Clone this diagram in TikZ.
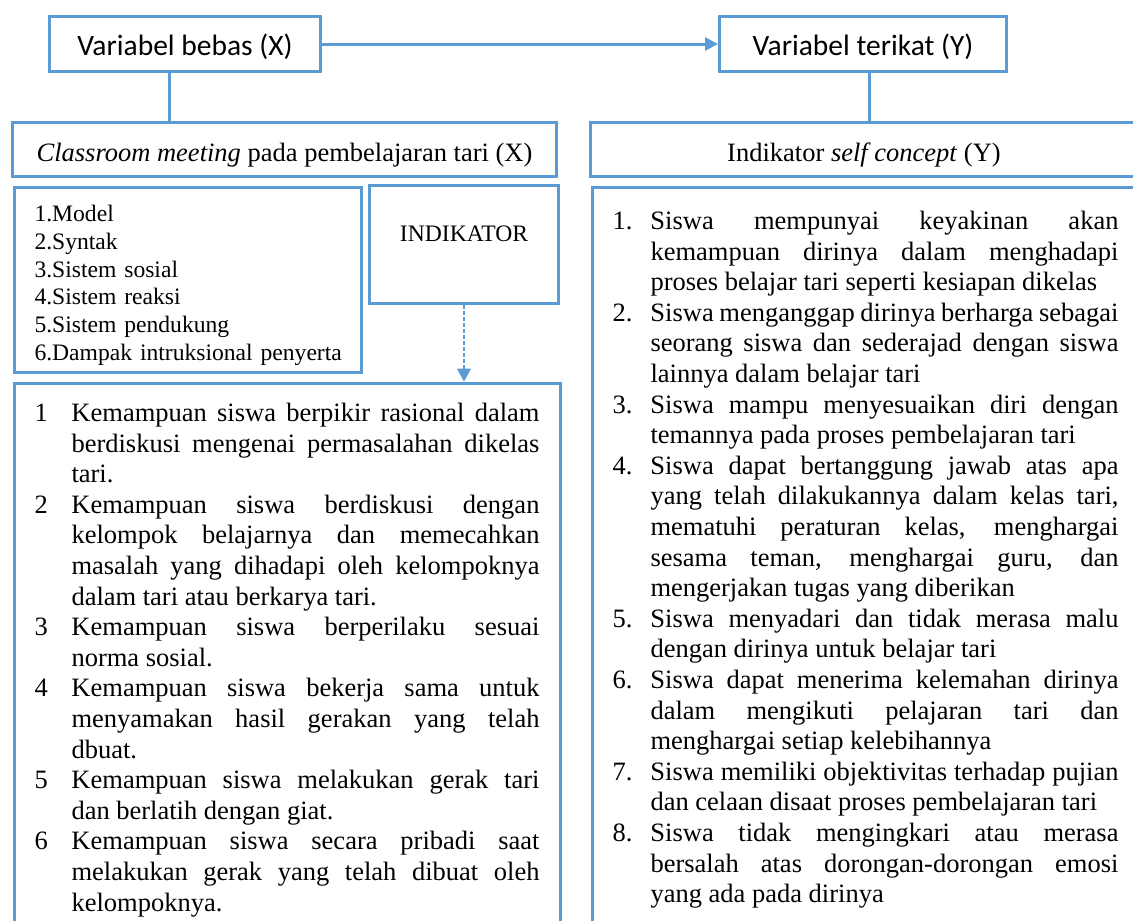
\documentclass[tikz,border=0pt]{standalone}
\usepackage{fontspec}
\setmainfont{Liberation Serif}
\newfontfamily\calibri{Carlito}
\usepackage{tikz}
\usetikzlibrary{arrows.meta, positioning}

\definecolor{boxblue}{RGB}{91,155,213}
\hyphenpenalty=10000
\exhyphenpenalty=10000
\tolerance=10000

% numbered line with hanging indent
\newcommand{\nitem}[3]{\noindent\hangindent=#1\hangafter=1\makebox[#1][l]{#2}#3\par}

\tikzset{
  varbox/.style={draw=boxblue, line width=3pt, inner sep=0pt,
    font=\calibri\fontsize{29.5}{35}\selectfont, text height=39pt, text depth=16pt},
  headbox/.style={draw=boxblue, line width=3pt, inner sep=0pt,
    font=\fontsize{26.5}{30.6}\selectfont, text height=39pt, text depth=15pt},
  listbox/.style={draw=boxblue, line width=3pt, inner ysep=0pt, inner xsep=20.5pt,
    anchor=north west, font=\fontsize{26.5}{30.6}\selectfont, align=justify},
  link/.style={draw=boxblue, line width=3pt},
  dashlink/.style={draw=boxblue, line width=1.2pt, dash pattern=on 4pt off 2pt},
}

\begin{document}
\begin{tikzpicture}[x=1pt, y=-1pt]
\useasboundingbox (0,0) rectangle (1133,921);
\clip (0,0) rectangle (1133,921);
% variables
\node[varbox, minimum width=271pt] (bebas) at (185,44) {Variabel bebas (X)};
\node[varbox, minimum width=287pt] (terikat) at (863,44) {Variabel terikat (Y)};
\draw[link, -{Triangle[length=13pt,width=13pt]}] (bebas) -- (terikat);
% headers
\node[headbox, minimum width=544pt] (classroom) at (284.5,149.5) {\textit{Classroom meeting} pada pembelajaran tari (X)};
\node[headbox, minimum width=547pt] (selfc) at (864,149.5) {Indikator \textit{self concept} (Y)};
\coordinate (xl) at (169,0);
\coordinate (xr) at (869,0);
\draw[link] (bebas.south -| xl) -- (classroom.north -| xl);
\draw[link] (terikat.south -| xr) -- (selfc.north -| xr);
% X side
\node[draw=boxblue, line width=3pt, inner ysep=0pt, inner xsep=20.5pt, anchor=north west,
  text width=306pt, align=left, font=\fontsize{23.6}{27.8}\selectfont,
  text height=34.5pt, text depth=150.5pt] (model) at (12.5,185.5)
  {1.Model\\2.Syntak\\3.Sistem sosial\\4.Sistem reaksi\\5.Sistem pendukung\\\mbox{6.Dampak intruksional penyerta}};
\node[draw=boxblue, line width=3pt, inner sep=0pt, minimum width=189pt,
  font=\fontsize{23.6}{27.8}\selectfont, text height=55.5pt, text depth=62.5pt] (indik) at (464,244.5) {INDIKATOR};
\node[listbox, text width=505pt, text height=38.5pt, text depth=600pt] (listx) at (12.5,381.5) {%
  \nitem{37pt}{1}{Kemampuan siswa berpikir rasional dalam \linebreak berdiskusi mengenai permasalahan dikelas \linebreak tari.}%
  \nitem{37pt}{2}{Kemampuan siswa berdiskusi dengan \linebreak kelompok belajarnya dan memecahkan \linebreak masalah yang dihadapi oleh kelompoknya \linebreak dalam tari atau berkarya tari.}%
  \nitem{37pt}{3}{Kemampuan siswa berperilaku sesuai \linebreak norma sosial.}%
  \nitem{37pt}{4}{Kemampuan siswa bekerja sama untuk \linebreak menyamakan hasil gerakan yang telah \linebreak dbuat.}%
  \nitem{37pt}{5}{Kemampuan siswa melakukan gerak tari \linebreak dan berlatih dengan giat.}%
  \nitem{37pt}{6}{Kemampuan siswa secara pribadi saat \linebreak melakukan gerak yang telah dibuat oleh \linebreak kelompoknya.}};
\draw[dashlink, -{Triangle[length=13pt,width=14pt]}] (indik.south) -- (indik.south |- listx.north);
% Y side
\node[listbox, text width=506pt, text height=42.5pt, text depth=800pt] (listy) at (590.5,185.5) {%
  \nitem{38pt}{1.}{Siswa mempunyai keyakinan akan \linebreak kemampuan dirinya dalam menghadapi \linebreak proses belajar tari seperti kesiapan dikelas}%
  \nitem{38pt}{2.}{Siswa menganggap dirinya berharga sebagai \linebreak seorang siswa dan sederajad dengan siswa \linebreak lainnya dalam belajar tari}%
  \nitem{38pt}{3.}{Siswa mampu menyesuaikan diri dengan \linebreak temannya pada proses pembelajaran tari}%
  \nitem{38pt}{4.}{Siswa dapat bertanggung jawab atas apa \linebreak yang telah dilakukannya dalam kelas tari, \linebreak mematuhi peraturan kelas, menghargai \linebreak sesama teman, menghargai guru, dan \linebreak mengerjakan tugas yang diberikan}%
  \nitem{38pt}{5.}{Siswa menyadari dan tidak merasa malu \linebreak dengan dirinya untuk belajar tari}%
  \nitem{38pt}{6.}{Siswa dapat menerima kelemahan dirinya \linebreak dalam mengikuti pelajaran tari dan \linebreak menghargai setiap kelebihannya}%
  \nitem{38pt}{7.}{Siswa memiliki objektivitas terhadap pujian \linebreak dan celaan disaat proses pembelajaran tari}%
  \nitem{38pt}{8.}{Siswa tidak mengingkari atau merasa \linebreak bersalah atas dorongan-dorongan emosi \linebreak yang ada pada dirinya}};
\end{tikzpicture}
\end{document}
